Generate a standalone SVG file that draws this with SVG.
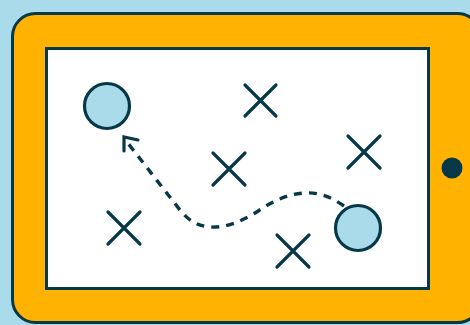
<svg xmlns="http://www.w3.org/2000/svg" width="470" height="325" viewBox="0 0 470 325">
<style>
.ln{stroke:#073847;stroke-width:3.2;fill:none;stroke-linecap:round}
.dash{stroke:#073847;stroke-width:3.4;fill:none;stroke-dasharray:8 7}
.pc{fill:#a9dbeb;stroke:#073847;stroke-width:3.2}
</style>
<rect x="0" y="0" width="470" height="325" fill="#a9dbeb"/>
<g id="tablet">
<rect x="12.5" y="13.5" width="468" height="309" rx="23" fill="#ffb300" stroke="#073847" stroke-width="3"/>
<rect x="46.5" y="48.5" width="382" height="240" fill="#ffffff" stroke="#073847" stroke-width="3"/>
<circle cx="452" cy="168" r="10.5" fill="#073847"/>
</g>
<g id="circle-a"><circle class="pc" cx="107" cy="106" r="22.5"/></g>
<g id="circle-b"><circle class="pc" cx="358" cy="228" r="22.5"/></g>
<g id="x1"><path class="ln" d="M245 85 L276 116 M276 85 L245 116"/></g>
<g id="x2"><path class="ln" d="M213 153 L245 185 M245 153 L213 185"/></g>
<g id="x3"><path class="ln" d="M108 212 L140 244 M140 212 L108 244"/></g>
<g id="x4"><path class="ln" d="M348 136 L380 168 M380 136 L348 168"/></g>
<g id="x5"><path class="ln" d="M277 235 L309 267 M309 235 L277 267"/></g>
<g id="connectors">
<path class="dash" d="M344 206 C331 197 319 192 305 193 C285 194 270 203 255 213 C240 222 225 228 210 227 C197 226 188 220 180 210 L127 142"/>
<path class="ln" d="M124 151 L124 137 L138 140"/>
</g>
</svg>
